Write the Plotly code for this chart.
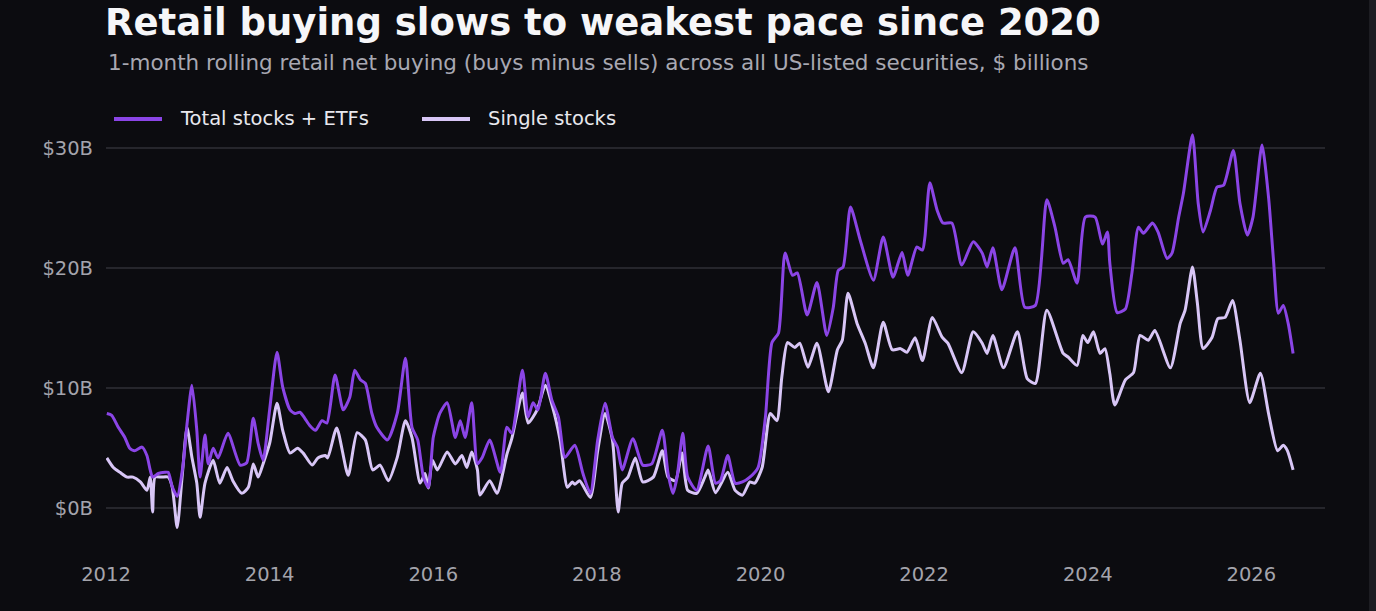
import plotly.graph_objects as go

# ---- data (decimal years, $ billions) ----
total_t = [2012.01, 2012.07, 2012.15, 2012.23, 2012.29, 2012.35, 2012.44, 2012.50, 2012.54, 2012.57,
           2012.64, 2012.72, 2012.76, 2012.81, 2012.87, 2012.94, 2012.99, 2013.05, 2013.11, 2013.15,
           2013.21, 2013.25, 2013.31, 2013.37, 2013.49, 2013.64, 2013.72, 2013.80, 2013.86, 2013.92,
           2014.00, 2014.09, 2014.16, 2014.25, 2014.31, 2014.37, 2014.43, 2014.49, 2014.56, 2014.64,
           2014.70, 2014.80, 2014.90, 2014.98, 2015.04, 2015.11, 2015.17, 2015.25, 2015.31, 2015.44,
           2015.56, 2015.66, 2015.74, 2015.81, 2015.88, 2015.94, 2016.00, 2016.08, 2016.17, 2016.27,
           2016.33, 2016.39, 2016.47, 2016.54, 2016.60, 2016.69, 2016.82, 2016.90, 2016.96, 2017.09,
           2017.16, 2017.22, 2017.28, 2017.37, 2017.45, 2017.53, 2017.61, 2017.73, 2017.83, 2017.92,
           2018.01, 2018.10, 2018.19, 2018.25, 2018.31, 2018.44, 2018.56, 2018.67, 2018.80, 2018.87,
           2018.93, 2018.98, 2019.05, 2019.11, 2019.22, 2019.36, 2019.45, 2019.51, 2019.60, 2019.69,
           2019.78, 2019.87, 2019.97, 2020.06, 2020.14, 2020.22, 2020.30, 2020.39, 2020.45, 2020.57,
           2020.69, 2020.81, 2020.89, 2020.95, 2021.01, 2021.10, 2021.22, 2021.38, 2021.50, 2021.62,
           2021.73, 2021.80, 2021.91, 2021.98, 2022.01, 2022.07, 2022.16, 2022.23, 2022.34, 2022.46,
           2022.60, 2022.71, 2022.77, 2022.84, 2022.95, 2023.11, 2023.23, 2023.36, 2023.50, 2023.60,
           2023.70, 2023.76, 2023.87, 2023.97, 2024.09, 2024.18, 2024.24, 2024.27, 2024.36, 2024.46,
           2024.54, 2024.62, 2024.68, 2024.79, 2024.86, 2024.97, 2025.03, 2025.11, 2025.17, 2025.28,
           2025.35, 2025.41, 2025.50, 2025.58, 2025.66, 2025.78, 2025.86, 2025.95, 2026.02, 2026.13,
           2026.21, 2026.27, 2026.33, 2026.39, 2026.45, 2026.51]
total_v = [7.9, 7.75, 6.75, 5.9, 5.0, 4.8, 5.1, 4.4, 3.2, 2.6,
           2.9, 3.0, 3.0, 1.8, 1.0, 3.5, 7.0, 10.25, 6.5, 2.6,
           6.1, 3.7, 5.0, 4.2, 6.25, 3.6, 3.8, 7.5, 5.4, 4.0,
           8.2, 13.0, 10.1, 8.2, 7.9, 8.0, 7.5, 6.9, 6.5, 7.3,
           7.1, 11.1, 8.2, 9.25, 11.5, 10.7, 10.4, 7.9, 6.75, 5.7,
           7.9, 12.5, 6.75, 5.7, 2.6, 1.75, 5.9, 7.9, 8.8, 5.9,
           7.3, 5.9, 8.8, 3.7, 4.25, 5.7, 3.0, 6.75, 6.25, 11.5,
           7.6, 8.8, 8.2, 11.25, 9.0, 7.6, 4.25, 5.25, 2.9, 1.25,
           5.7, 8.75, 5.9, 5.1, 3.2, 5.8, 3.6, 3.7, 6.5, 2.9,
           1.25, 2.6, 6.25, 2.6, 1.5, 5.2, 2.1, 2.3, 4.4, 2.1,
           2.2, 2.6, 3.4, 7.6, 13.8, 14.6, 21.25, 19.4, 19.6, 16.1,
           18.8, 14.4, 16.75, 19.8, 20.1, 25.1, 22.3, 19.0, 22.6, 19.25,
           21.3, 19.4, 21.75, 21.5, 22.6, 27.1, 24.8, 23.75, 23.75, 20.25,
           22.2, 21.25, 20.1, 21.7, 18.2, 21.7, 16.75, 16.9, 25.7, 23.4,
           20.4, 20.7, 18.75, 24.25, 24.25, 22.0, 23.0, 20.4, 16.3, 16.6,
           19.6, 23.4, 22.9, 23.75, 23.0, 20.8, 21.25, 24.2, 26.25, 31.1,
           25.4, 23.0, 24.8, 26.75, 26.9, 29.8, 25.4, 22.75, 24.25, 30.25,
           25.9, 20.7, 16.25, 16.9, 15.4, 12.9]

single_t = [2012.01, 2012.09, 2012.17, 2012.26, 2012.33, 2012.42, 2012.50, 2012.54, 2012.57, 2012.60,
            2012.68, 2012.76, 2012.81, 2012.87, 2012.93, 2012.99, 2013.05, 2013.11, 2013.15, 2013.21,
            2013.31, 2013.39, 2013.48, 2013.55, 2013.66, 2013.74, 2013.80, 2013.86, 2013.92, 2014.00,
            2014.09, 2014.16, 2014.25, 2014.34, 2014.41, 2014.52, 2014.59, 2014.68, 2014.71, 2014.82,
            2014.96, 2015.07, 2015.17, 2015.26, 2015.35, 2015.45, 2015.56, 2015.66, 2015.74, 2015.84,
            2015.90, 2015.94, 2015.99, 2016.05, 2016.17, 2016.27, 2016.35, 2016.41, 2016.47, 2016.54,
            2016.57, 2016.69, 2016.78, 2016.90, 2016.96, 2017.09, 2017.16, 2017.27, 2017.37, 2017.46,
            2017.55, 2017.64, 2017.70, 2017.73, 2017.79, 2017.92, 2018.01, 2018.10, 2018.19, 2018.22,
            2018.26, 2018.31, 2018.38, 2018.47, 2018.56, 2018.69, 2018.80, 2018.87, 2018.96, 2019.04,
            2019.11, 2019.22, 2019.32, 2019.36, 2019.45, 2019.60, 2019.69, 2019.78, 2019.87, 2019.93,
            2020.02, 2020.12, 2020.20, 2020.26, 2020.33, 2020.42, 2020.48, 2020.58, 2020.69, 2020.83,
            2020.94, 2021.00, 2021.07, 2021.18, 2021.28, 2021.38, 2021.50, 2021.61, 2021.71, 2021.79,
            2021.89, 2021.98, 2022.10, 2022.22, 2022.29, 2022.46, 2022.60, 2022.71, 2022.77, 2022.84,
            2022.97, 2023.14, 2023.26, 2023.36, 2023.50, 2023.70, 2023.76, 2023.87, 2023.94, 2024.00,
            2024.07, 2024.15, 2024.21, 2024.27, 2024.33, 2024.46, 2024.56, 2024.64, 2024.74, 2024.82,
            2025.01, 2025.13, 2025.19, 2025.28, 2025.34, 2025.41, 2025.52, 2025.59, 2025.68, 2025.77,
            2025.86, 2025.98, 2026.11, 2026.21, 2026.32, 2026.39, 2026.44, 2026.51]
single_v = [4.2, 3.4, 3.0, 2.6, 2.6, 2.2, 1.5, 2.6, -0.3, 2.6,
            2.6, 2.6, 1.75, -1.6, 2.6, 6.75, 4.25, 2.1, -0.75, 2.1,
            4.0, 2.1, 3.4, 2.3, 1.25, 1.75, 3.7, 2.6, 3.7, 5.4,
            8.75, 6.5, 4.6, 5.0, 4.6, 3.6, 4.2, 4.4, 4.2, 6.7,
            2.75, 6.3, 5.7, 3.2, 3.6, 2.3, 4.25, 7.3, 5.9, 2.1,
            2.9, 1.7, 4.0, 3.2, 4.7, 3.7, 4.4, 3.4, 4.7, 3.2,
            1.1, 2.3, 1.25, 4.5, 5.8, 9.6, 7.1, 8.2, 10.25, 8.4,
            5.7, 1.75, 2.2, 2.0, 2.3, 0.9, 4.8, 7.9, 5.7, 3.2,
            -0.3, 2.1, 2.6, 4.2, 2.2, 2.6, 4.8, 2.6, 2.3, 4.6,
            1.5, 1.25, 2.6, 3.2, 1.3, 3.0, 1.5, 1.1, 2.2, 2.1,
            3.4, 7.9, 7.3, 10.9, 13.8, 13.4, 13.75, 11.75, 13.75, 9.7,
            13.2, 14.0, 17.9, 15.4, 13.75, 11.7, 15.5, 13.2, 13.3, 13.0,
            14.2, 12.3, 15.9, 14.25, 13.75, 11.3, 14.7, 13.75, 12.9, 14.4,
            11.7, 14.7, 10.8, 10.4, 16.5, 12.9, 12.6, 11.9, 14.4, 13.8,
            14.7, 12.9, 13.3, 11.2, 8.6, 10.7, 11.3, 14.4, 14.0, 14.8,
            11.7, 15.4, 16.5, 20.1, 17.1, 13.3, 14.25, 15.8, 15.9, 17.3,
            14.0, 8.8, 11.25, 7.9, 4.8, 5.25, 4.8, 3.2]

year_ticks = [2012, 2014, 2016, 2018, 2020, 2022, 2024, 2026]
year_labels = ["2012", "2014", "2016", "2018", "2020", "2022", "2024", "2026"]
y_ticks = [0, 10, 20, 30]
y_labels = ["$0B", "$10B", "$20B", "$30B"]
series_names = ["Total stocks + ETFs", "Single stocks"]

TITLE = "Retail buying slows to weakest pace since 2020"
SUBTITLE = "1-month rolling retail net buying (buys minus sells) across all US-listed securities, $ billions"

# ---- style ----
BG = "#0c0c10"
PURPLE = "#8b45e6"
LAVENDER = "#d8c6f6"
GRID = "#26262c"
TICK = "#a4a4ac"
FONT = "DejaVu Sans"

W, H = 1376, 611
ML, MR, MT, MB = 106, 51, 124, 51
PW = W - ML - MR
PH = H - MT - MB

def px_x(p):  # pixel x -> paper
    return (p - ML) / PW

def px_y(p):  # pixel y -> paper
    return (H - MB - p) / PH

fig = go.Figure()
fig.add_trace(go.Scatter(x=single_t, y=single_v, mode="lines", name=series_names[1],
                         line=dict(color=LAVENDER, width=3, shape="spline", smoothing=0.6),
                         showlegend=False))
fig.add_trace(go.Scatter(x=total_t, y=total_v, mode="lines", name=series_names[0],
                         line=dict(color=PURPLE, width=3, shape="spline", smoothing=0.6),
                         showlegend=False))

# custom legend
legend_items = [(114, 162, 178, PURPLE, series_names[0]), (422, 470, 486, LAVENDER, series_names[1])]
shapes = []
annotations = []
ly = px_y(119)
for x0, x1, tx, col, name in legend_items:
    shapes.append(dict(type="line", xref="paper", yref="paper", x0=px_x(x0), x1=px_x(x1),
                       y0=ly, y1=ly, line=dict(color=col, width=4), layer="above"))
    annotations.append(dict(xref="paper", yref="paper", x=px_x(tx), y=ly, xanchor="left",
                            yanchor="middle", text=name, showarrow=False,
                            font=dict(family=FONT, size=19.5, color="#e8e8ee")))

annotations.append(dict(xref="paper", yref="paper", x=px_x(106), y=px_y(62), xanchor="left",
                        yanchor="middle", text=SUBTITLE, showarrow=False,
                        font=dict(family=FONT, size=21.5, color="#a8a8b2")))

# right edge strip
shapes.append(dict(type="rect", xref="paper", yref="paper", x0=px_x(1369), x1=px_x(1377),
                   y0=px_y(-2), y1=px_y(613), fillcolor="#1d1d22", line=dict(width=0), layer="below"))

fig.update_layout(
    width=W, height=H,
    paper_bgcolor=BG, plot_bgcolor=BG,
    margin=dict(l=ML, r=MR, t=MT, b=MB),
    title=dict(text="<b>" + TITLE + "</b>", x=105 / W, xanchor="left", xref="container",
               y=1 - 22 / H, yanchor="middle", yref="container",
               font=dict(family=FONT, size=37, color="#f6f6f8")),
    xaxis=dict(range=[2012.0, 2026.9], tickvals=year_ticks, ticktext=year_labels,
               showgrid=False, zeroline=False, showline=False, ticks="",
               tickfont=dict(family=FONT, size=19.5, color=TICK)),
    yaxis=dict(range=[-4.3, 32], tickvals=y_ticks, ticktext=y_labels,
               showgrid=True, gridcolor=GRID, gridwidth=2, zeroline=False, showline=False,
               ticks="", ticklabelstandoff=12,
               tickfont=dict(family=FONT, size=19.5, color=TICK)),
    shapes=shapes, annotations=annotations,
    showlegend=False,
)

fig.write_html("out.html")
